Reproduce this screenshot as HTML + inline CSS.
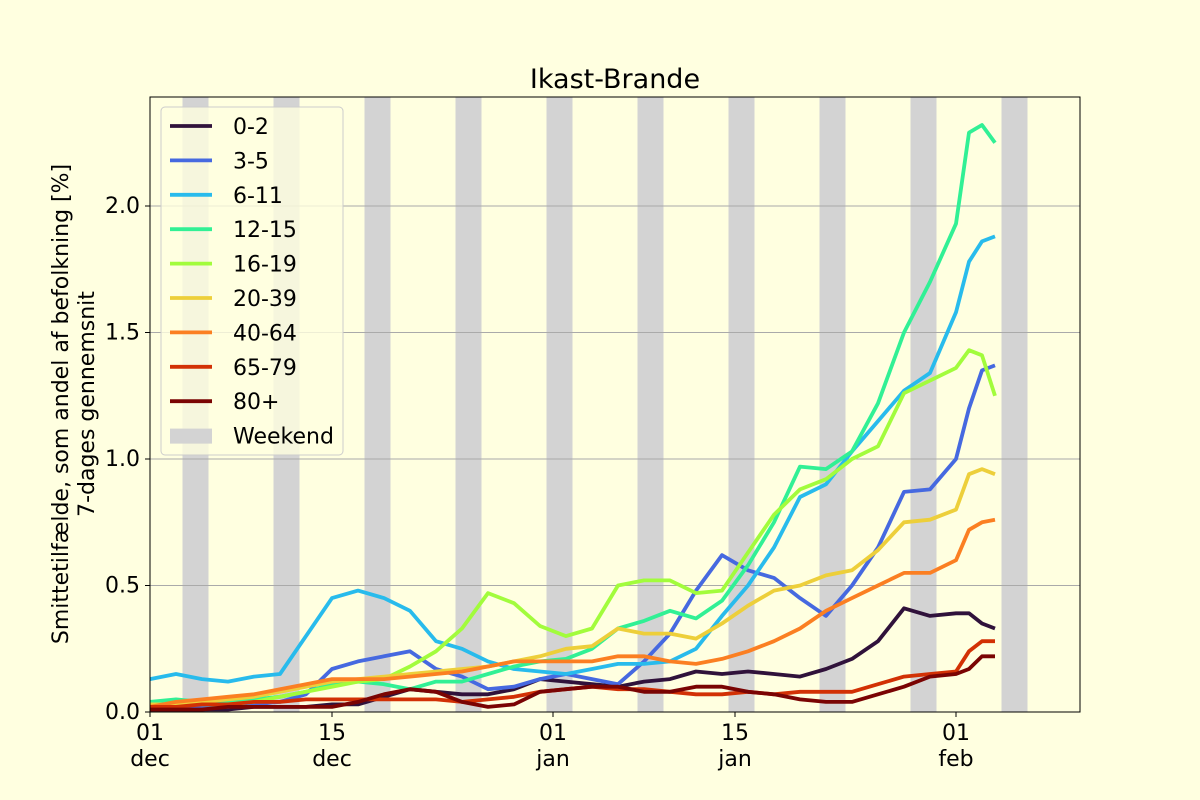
<!DOCTYPE html>
<html><head><meta charset="utf-8"><style>
body{margin:0;background:#ffffe0;}
svg{display:block;font-family:"DejaVu Sans","Liberation Sans",sans-serif;}
</style></head><body>
<svg id="chart" width="1200" height="800" xmlns="http://www.w3.org/2000/svg">
<rect width="1200" height="800" fill="#ffffe0"/>
<rect x="150" y="97" width="930" height="615" fill="#ffffe0"/>
<g id="weekends"></g><g id="grid"></g><g id="series"></g>
<rect x="150" y="97" width="930" height="615" fill="none" stroke="#000" stroke-width="1"/>
<g id="axes"></g>
<text x="615" y="88" text-anchor="middle" font-size="27">Ikast-Brande</text>
<text transform="translate(68,404) rotate(-90)" text-anchor="middle" font-size="22"><tspan x="0" dy="0">Smittetilfælde, som andel af befolkning [%]</tspan><tspan x="0" dy="26">7-dages gennemsnit</tspan></text>
<g id="legend"></g>
</svg>
<script>
const days=[0,2,4,6,8,10,12,14,16,18,20,22,24,26,28,30,32,34,36,38,40,42,44,46,48,50,52,54,56,58,60,62,63,64,65];
const labels=["0-2","3-5","6-11","12-15","16-19","20-39","40-64","65-79","80+"];
const colors=["#30123b","#4669e0","#28bbec","#31f095","#a2fc3c","#edcf3a","#fb7f22","#d23105","#7a0403"];
const s0=[.01,.01,.01,.01,.02,.02,.02,.03,.03,.06,.09,.08,.07,.07,.09,.13,.12,.11,.1,.12,.13,.16,.15,.16,.15,.14,.17,.21,.28,.41,.38,.39,.39,.35,.33];
const s1=[.02,.02,.02,.02,.03,.04,.07,.17,.2,.22,.24,.17,.14,.09,.1,.13,.15,.13,.11,.2,.31,.48,.62,.56,.53,.45,.38,.5,.65,.87,.88,1.0,1.2,1.35,1.37];
const s2=[.13,.15,.13,.12,.14,.15,.3,.45,.48,.45,.4,.28,.25,.2,.17,.16,.15,.17,.19,.19,.2,.25,.38,.5,.65,.85,.9,1.03,1.15,1.27,1.34,1.58,1.78,1.86,1.88];
const s3=[.04,.05,.04,.04,.05,.06,.08,.11,.12,.11,.09,.12,.12,.15,.18,.2,.21,.25,.33,.36,.40,.37,.44,.58,.75,.97,.96,1.03,1.22,1.5,1.7,1.93,2.29,2.32,2.25];
const s4=[.03,.03,.03,.03,.04,.06,.08,.1,.12,.13,.18,.24,.33,.47,.43,.34,.3,.33,.5,.52,.52,.47,.48,.63,.78,.88,.92,1.0,1.05,1.26,1.31,1.36,1.43,1.41,1.25];
const s5=[.03,.03,.04,.05,.06,.08,.1,.12,.13,.14,.15,.16,.17,.18,.2,.22,.25,.26,.33,.31,.31,.29,.35,.42,.48,.5,.54,.56,.64,.75,.76,.8,.94,.96,.94];
const s6=[.02,.04,.05,.06,.07,.09,.11,.13,.13,.13,.14,.15,.16,.18,.2,.2,.2,.2,.22,.22,.2,.19,.21,.24,.28,.33,.4,.45,.5,.55,.55,.6,.72,.75,.76];
const s7=[.02,.02,.03,.03,.04,.04,.05,.05,.05,.05,.05,.05,.04,.05,.06,.08,.09,.1,.09,.09,.08,.07,.07,.08,.07,.08,.08,.08,.11,.14,.15,.16,.24,.28,.28];
const s8=[.01,.01,.01,.02,.02,.02,.02,.02,.04,.07,.09,.08,.04,.02,.03,.08,.09,.1,.1,.08,.08,.1,.1,.08,.07,.05,.04,.04,.07,.1,.14,.15,.17,.22,.22];
const seriesValues=[s0,s1,s2,s3,s4,s5,s6,s7,s8];
const yTicks=[0,0.5,1.0,1.5,2.0];
const yTickLabels=["0.0","0.5","1.0","1.5","2.0"];
const xTickDays=[0,14,31,45,62];
const xTickLabels=[["01","dec"],["15","dec"],["01","jan"],["15","jan"],["01","feb"]];
const weekendStarts=[2.5,9.5,16.5,23.5,30.5,37.5,44.5,51.5,58.5,65.5];

const NS="http://www.w3.org/2000/svg";
const X=d=>150+d*13.0;
const Y=v=>712-v*253;
function mk(tag,attrs,parent){const e=document.createElementNS(NS,tag);for(const k in attrs)e.setAttribute(k,attrs[k]);parent.appendChild(e);return e;}
const gW=document.getElementById('weekends'),gG=document.getElementById('grid'),gS=document.getElementById('series'),gA=document.getElementById('axes'),gL=document.getElementById('legend');
weekendStarts.forEach(w=>{const x1=X(w),x2=Math.min(X(w+2),1080);
 const r=mk('rect',{x:x1,y:97,width:x2-x1,height:615,fill:'#d3d3d3'},gW);
 
 });
yTicks.forEach((v,i)=>{const y=Y(v);
 if(v>0){const l=mk('line',{x1:150,x2:1080,y1:y,y2:y,stroke:'#aaa','stroke-width':1},gG);
 
 }
 mk('line',{x1:145,x2:150,y1:y,y2:y,stroke:'#000'},gA);
 const t=mk('text',{x:140,y:y+7,'text-anchor':'end','font-size':22},gA);t.textContent=yTickLabels[i];
 
 });
xTickDays.forEach((d,i)=>{const x=X(d);
 mk('line',{x1:x,x2:x,y1:712,y2:717,stroke:'#000'},gA);
 const t=mk('text',{x:x,y:740,'text-anchor':'middle','font-size':22},gA);t.textContent=xTickLabels[i][0];
 
 
 const t2=mk('text',{x:x,y:766,'text-anchor':'middle','font-size':22},gA);t2.textContent=xTickLabels[i][1];
 
 });
seriesValues.forEach((vals,i)=>{const n=Math.min(vals.length,days.length);
 const pts=[];for(let j=0;j<n;j++)pts.push(X(days[j]).toFixed(1)+','+Y(vals[j]).toFixed(1));
 const p=mk('polyline',{points:pts.join(' '),fill:'none',stroke:colors[i],'stroke-width':3.8,'stroke-linejoin':'round'},gS);
 
 });
const box=mk('rect',{x:161,y:107,width:182,height:348,rx:4,fill:'#ffffe0',stroke:'#ccc','fill-opacity':0.8},gL);


const entries=labels.concat(['Weekend']);
entries.forEach((lab,i)=>{const y=126+i*34.4;
 if(i<labels.length){const l=mk('line',{x1:170,x2:212,y1:y,y2:y,stroke:colors[i],'stroke-width':3.8},gL);
 
 }
 else{const r=mk('rect',{x:170,y:y-7,width:42,height:15,fill:'#d3d3d3'},gL);
 
 }
 const t=mk('text',{x:233,y:y+8,'font-size':22},gL);t.textContent=lab;
 
 });
</script>
</body></html>
